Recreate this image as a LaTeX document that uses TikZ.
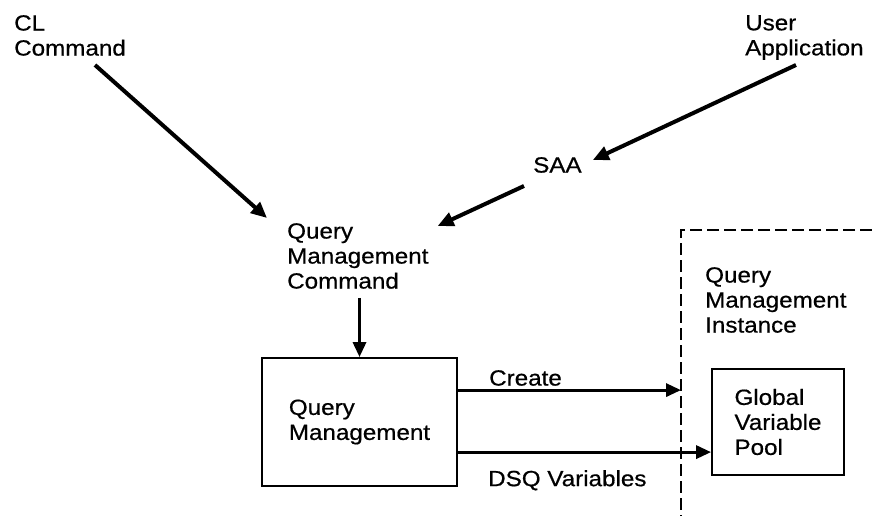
\documentclass[tikz,border=0pt]{standalone}
\usepackage{fontspec}
\setmainfont[FakeStretch=1.1,FakeBold=0.6]{Liberation Sans}
\usetikzlibrary{arrows.meta,calc}
\tikzset{
  lbl/.style={anchor=north west,inner sep=0pt,align=left,font=\fontsize{22}{25}\selectfont},
  boxnode/.style={draw,line width=1.8pt,inner sep=0pt,align=left,font=\fontsize{22}{25}\selectfont},
  flow/.style={line width=4pt,-{Triangle[length=16pt,width=14pt]}},
  hflow/.style={line width=3.2pt,-{Triangle[length=15pt,width=13pt]}},
  border/.style={line width=1.8pt,dash pattern=on 12pt off 5pt},
}
\begin{document}
\begin{tikzpicture}[x=1pt,y=-1pt]
\useasboundingbox (0,0) rectangle (872,516);

% text labels
\node[lbl] (cl)   at (14,15)   {CL\\Command};
\node[lbl] (ua)   at (745,15)  {User\\Application};
\node[lbl] (saa)  at (533,157) {SAA};
\node[lbl] (qmc)  at (287,223) {Query\\Management\\Command};
\node[lbl] (inst) at (705,267) {Query\\Management\\Instance};

% boxes
\node[boxnode,minimum width=195pt,minimum height=128pt] (qm) at (359.5,422) {Query\\Management};
\node[boxnode,minimum width=132pt,minimum height=106pt] (gvp) at (778,422) {Global\\Variable\\Pool};

% instance boundary
\coordinate (corner) at (681,230);
\draw[border] (872,230) -- (corner) -- (681,516);

% incoming commands
\draw[flow] ($(cl.north west)+(81,50)$) -- ($(qmc.north west)+(-20,-5)$);
\draw[flow] ($(ua.north west)+(51,50)$) -- ($(saa.north east)+(11,3)$);
\draw[flow] ($(saa.south west)+(-9,13)$) -- ($(qmc.north east)+(9,3)$);
\draw[hflow] ($(qmc.south -| qm.north)+(0,9)$) -- (qm.north);

% outgoing flows
\coordinate (createout) at ($(qm.north east)+(0,33)$);
\draw[hflow] (createout) -- (createout -| corner);
\node[lbl] (create) at (489,370) {Create};
\coordinate (dsqout) at ($(qm.north east)+(0,95)$);
\draw[hflow] (dsqout) -- (dsqout -| gvp.west);
\node[lbl] (dsq) at (488,470) {DSQ Variables};
\end{tikzpicture}
\end{document}
